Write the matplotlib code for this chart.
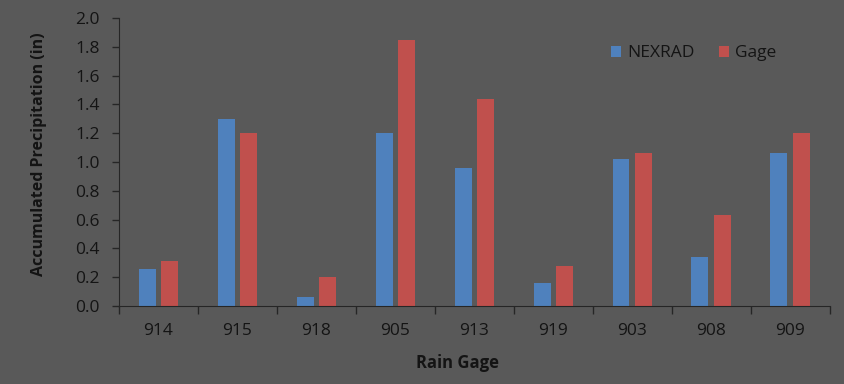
import numpy as np
import matplotlib.pyplot as plt

gages = ["914", "915", "918", "905", "913", "919", "903", "908", "909"]
nexrad = [0.26, 1.30, 0.06, 1.20, 0.96, 0.16, 1.02, 0.34, 1.06]
gage = [0.31, 1.20, 0.20, 1.85, 1.44, 0.28, 1.06, 0.63, 1.20]

bg = "#595959"
txt = "#141414"
plt.rcParams["font.family"] = ["Open Sans", "DejaVu Sans"]

fig = plt.figure(figsize=(8.45, 3.84), dpi=100, facecolor=bg)
ax = fig.add_axes([0.1408, 0.203, 0.841, 0.750], facecolor=bg)

x = np.arange(len(gages))
w = 0.215
ax.bar(x - 0.142, nexrad, w, color="#4F81BD", label="NEXRAD")
ax.bar(x + 0.142, gage, w, color="#C0504D", label="Gage")

ax.set_xlim(-0.5, len(gages) - 0.5)
ax.set_ylim(0, 2.0)
ax.set_yticks(np.arange(0, 2.01, 0.2))
ax.set_yticklabels([f"{v:.1f}" for v in np.arange(0, 2.01, 0.2)])
ax.set_xticks(x)
ax.set_xticklabels(gages)
ax.set_xticks(np.arange(-0.5, len(gages)), minor=True)
ax.tick_params(axis="x", which="major", length=0, pad=12, labelsize=12.5, colors=txt)
ax.tick_params(axis="x", which="minor", length=6, width=1, color="#262626")
ax.tick_params(axis="y", length=5, width=1, color="#262626", labelsize=12.5, labelcolor=txt, pad=9)

for s in ["top", "right"]:
    ax.spines[s].set_visible(False)
for s in ["left", "bottom"]:
    ax.spines[s].set_color("#262626")

ax.set_xlabel("Rain Gage", fontsize=12, fontweight="bold", color=txt)
ax.xaxis.set_label_coords(0.477, -0.165)
ax.set_ylabel("Accumulated Precipitation (in)", fontsize=11.5, fontweight="bold", color=txt)
ax.yaxis.set_label_coords(-0.101, 0.528)

ax.legend(loc="upper left", bbox_to_anchor=(0.67, 0.96), ncol=2, frameon=False,
          fontsize=12.5, labelcolor=txt, handlelength=0.6, handleheight=0.6,
          columnspacing=1.4, handletextpad=0.35)

fig.savefig("out.png", dpi=100, facecolor=bg)
